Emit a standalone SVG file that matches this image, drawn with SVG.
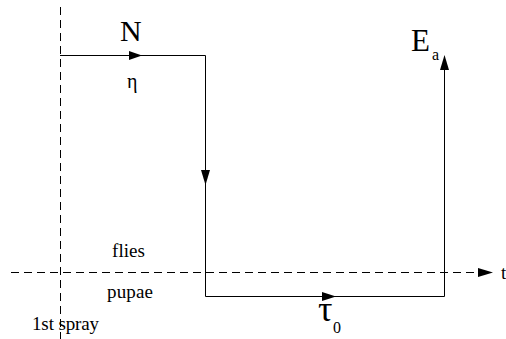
<svg xmlns="http://www.w3.org/2000/svg" width="506" height="339" viewBox="0 0 506 339">
<style>
.t{font-family:"Liberation Serif","Times New Roman",serif;fill:#000}
.d{stroke:#000;stroke-width:1;fill:none;stroke-dasharray:8 5}
.s{stroke:#000;stroke-width:1;fill:none}
.h{fill:#000}
</style>
<rect width="506" height="339" fill="#fff"/>
<g id="axes">
<line class="d" x1="60.5" y1="7" x2="60.5" y2="339"/>
<line class="d" x1="11" y1="272.5" x2="480" y2="272.5"/>
<polygon class="h" points="478,268 493,272.5 478,277"/>
</g>
<g id="connectors">
<polyline class="s" points="60,55.5 205.5,55.5 205.5,296.5 444.5,296.5 444.5,60"/>
<polygon class="h" points="129,51 142,55.5 129,60"/>
<polygon class="h" points="201,170 210,170 205.5,185"/>
<polygon class="h" points="322,292 336,296.5 322,301"/>
<polygon class="h" points="440,70 449,70 444.5,55"/>
</g>
<g id="labels">
<text class="t" x="120" y="41" font-size="30">N</text>
<text class="t" x="127" y="88" font-size="20">η</text>
<text class="t" x="411" y="51" font-size="31">E</text>
<text class="t" x="432" y="60" font-size="16">a</text>
<text class="t" x="112" y="257" font-size="19" textLength="33">flies</text>
<text class="t" x="107" y="298" font-size="19" textLength="46">pupae</text>
<text class="t" x="32" y="330" font-size="19" textLength="67">1st spray</text>
<text class="t" x="318" y="321" font-size="36">τ</text>
<text class="t" x="333" y="333" font-size="16">0</text>
<text class="t" x="501" y="279" font-size="19">t</text>
</g>
</svg>
